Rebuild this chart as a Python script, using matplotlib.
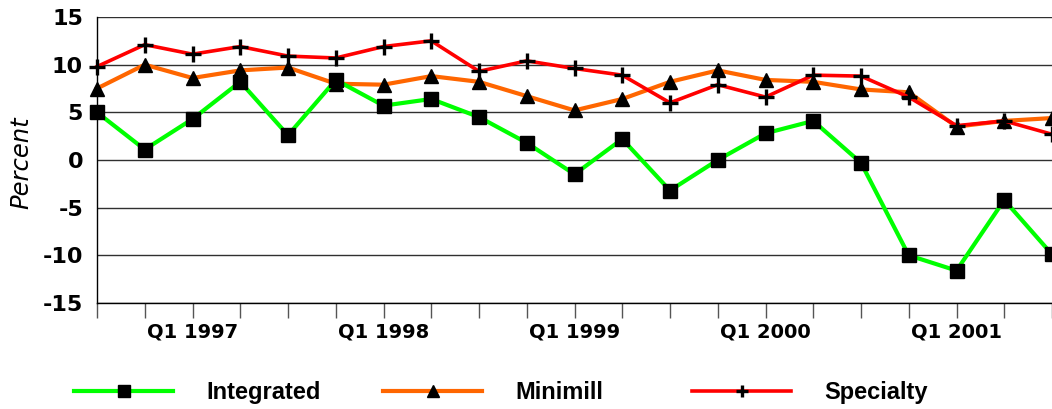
import numpy as np
import matplotlib.pyplot as plt

# Quarterly values, Q3 1996 through Q3 2001
quarters = ['Q3 1996', 'Q4 1996',
            'Q1 1997', 'Q2 1997', 'Q3 1997', 'Q4 1997',
            'Q1 1998', 'Q2 1998', 'Q3 1998', 'Q4 1998',
            'Q1 1999', 'Q2 1999', 'Q3 1999', 'Q4 1999',
            'Q1 2000', 'Q2 2000', 'Q3 2000', 'Q4 2000',
            'Q1 2001', 'Q2 2001', 'Q3 2001']
integrated = [5.0, 1.1, 4.3, 8.2, 2.6, 8.4, 5.7, 6.4, 4.5, 1.8, -1.5,
              2.2, -3.2, 0.0, 2.8, 4.1, -0.3, -10.0, -11.6, -4.2, -9.9]
minimill = [7.5, 10.0, 8.6, 9.4, 9.7, 8.0, 7.9, 8.8, 8.2, 6.7, 5.2,
            6.4, 8.2, 9.4, 8.4, 8.2, 7.4, 7.1, 3.5, 4.1, 4.4]
specialty = [9.8, 12.1, 11.1, 11.9, 10.9, 10.7, 11.9, 12.5, 9.3, 10.4, 9.6,
             8.9, 6.0, 7.9, 6.6, 8.9, 8.8, 6.6, 3.6, 4.1, 2.7]

x = np.arange(len(quarters))
tick_labels = [q if q.startswith('Q1') else '' for q in quarters]

plt.rcParams['font.family'] = 'DejaVu Sans'
plt.rcParams['axes.unicode_minus'] = False

fig = plt.figure(figsize=(10.52, 4.09), dpi=100)
ax = fig.add_axes([97 / 1052, 1 - 303 / 409, 1 - 97 / 1052, 286 / 409])

l_min, = ax.plot(x, minimill, color='#FF6600', linewidth=3, marker='^', markersize=10,
                 markerfacecolor='black', markeredgecolor='black', label='Minimill',
                 zorder=3, clip_on=False)
l_spec, = ax.plot(x, specialty, color='#FF0000', linewidth=2.6, marker='+', markersize=11,
                  markeredgewidth=2.4, markeredgecolor='black', label='Specialty',
                  zorder=4, clip_on=False)
l_int, = ax.plot(x, integrated, color='#00FF00', linewidth=3, marker='s', markersize=10.5,
                 markerfacecolor='black', markeredgecolor='black', label='Integrated',
                 zorder=5, clip_on=False)

ax.set_xlim(0, 20)
ax.set_ylim(-15, 15)
ax.set_yticks(np.arange(-15, 16, 5))
ax.set_xticks(x)
ax.set_xticklabels(tick_labels)

ax.grid(axis='y', color='#303030', linewidth=1)
ax.set_axisbelow(True)
for side in ['top', 'right']:
    ax.spines[side].set_visible(False)
for side in ['left', 'bottom']:
    ax.spines[side].set_color('black')
    ax.spines[side].set_linewidth(1)

ax.tick_params(axis='y', length=0, pad=10, labelsize=16)
ax.tick_params(axis='x', length=11, width=1, color='#555555', pad=3, labelsize=14)
for lab in ax.get_xticklabels() + ax.get_yticklabels():
    lab.set_fontweight('bold')

ax.set_ylabel('Percent', fontsize=17.5, fontstyle='italic')
ax.yaxis.set_label_coords(-0.067, 0.49)

# legend entries sit in equal-width slots along the bottom
legend_font = {'family': 'Liberation Sans', 'size': 17, 'weight': 'bold'}
for line, x0 in zip([l_int, l_min, l_spec], [74, 383, 692]):
    fig.legend([line], [line.get_label()], loc='center left',
               bbox_to_anchor=(x0 / 1052, 0.04), frameon=False,
               borderpad=0, borderaxespad=0, handlelength=4.2,
               handletextpad=1.4, markerscale=0.8, prop=legend_font)

fig.savefig('out.png', dpi=100)
